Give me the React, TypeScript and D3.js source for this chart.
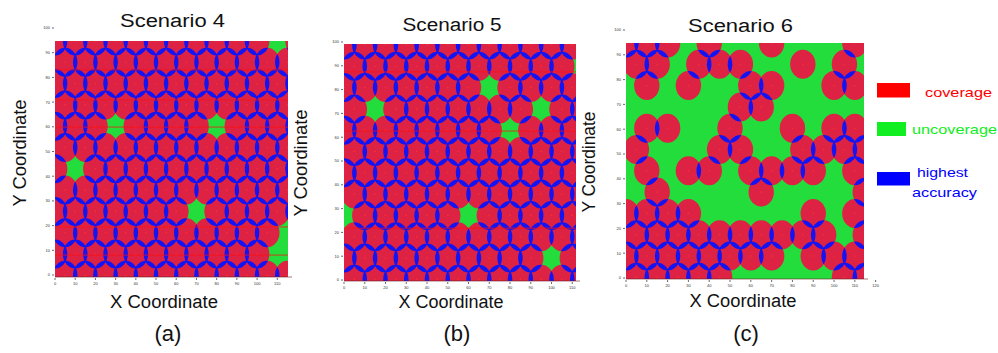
import React from 'react';
import * as d3 from 'd3';

// Sensor lattice: rows counted from the top edge, even rows sit on whole columns,
// odd rows on half columns (one column = sensor spacing).
const latticeRows = d3.range(0, 12);
const evenCols = d3.range(0, 13);
const oddCols = d3.range(0.5, 12, 1);

// Scenario 4 and 5: full lattice minus these [row, col] holes
const scenario4Holes: [number, number][] = [
  [0, 11], [4, 3], [4, 8], [6, 1], [8, 7], [9, 11.5], [10, 11], [10, 12],
];
const scenario5Holes: [number, number][] = [
  [1, 11.5], [2, 7], [3, 1.5], [3, 9.5], [4, 8], [8, 0], [8, 6], [10, 10],
];

// Scenario 6: surviving sensors, one list of columns per row
const scenario6Rows: number[][] = [
  [0, 1, 2, 4, 7, 11],
  [0.5, 1.5, 3.5, 4.5, 5.5, 8.5, 10.5],
  [1, 3, 6, 7, 10, 11],
  [5.5, 6.5],
  [1, 2, 5, 8, 10, 11],
  [0.5, 4.5, 5.5, 8.5, 9.5, 10.5, 11.5],
  [1, 3, 4, 6, 7, 8, 9, 11],
  [1.5, 6.5, 11.5],
  [0, 1, 2, 3, 9, 11],
  [0.5, 1.5, 2.5, 3.5, 4.5, 5.5, 6.5, 7.5, 8.5, 9.5, 11.5],
  [0, 1, 2, 3, 4, 5, 6, 7, 9, 10, 11],
  [0.5, 1.5, 2.5, 3.5, 4.5, 10.5, 11.5],
];

// tick labels (unreadable in the source, plain numbers)
const xTickLabels = d3.range(0, 13).map(v => String(v * 10));
const yTickLabels = d3.range(0, 11).map(v => String(v * 10));

// legend
const legendItems = [
  { label: ['coverage'], key: 'cov' },
  { label: ['uncoverage'], key: 'unc' },
  { label: ['highest', 'accuracy'], key: 'acc' },
];

// sensing radius, in column / row units
const RX = 0.61;
const RY = 0.68;

const RED = '#dd2244';
const GREEN = '#22dd3c';
const BLUE = '#1414f2';
const FONT = '"Liberation Sans", Arial, Helvetica, sans-serif';

type Sensor = { row: number; col: number };

const fullLattice = (holes: [number, number][]): Sensor[] =>
  latticeRows.flatMap(r =>
    (r % 2 ? oddCols : evenCols)
      .filter(c => !holes.some(h => h[0] === r && h[1] === c))
      .map(c => ({ row: r, col: c }))
  );

const fromRows = (rows: number[][]): Sensor[] =>
  rows.flatMap((cols, r) => cols.map(c => ({ row: r, col: c })));

const panels = [
  {
    id: 'a', title: 'Scenario 4', tag: '(a)', sensors: fullLattice(scenario4Holes),
    plot: [55, 288, 41, 277], colMax: 11.53, rowDomain: [0, 11.08], yAxis: [275, 28], xTicks: 12,
    streaks: [1.36, 2.77, 4.04, 8.73, 10.05],
    titleX: 172.5, titleY: 26.5, titleW: 105,
    xLabX: 164, xLabY: 308, xLabW: 108,
    yLabX: 26, yLabY: 153, yLabW: 107, tagX: 168,
  },
  {
    id: 'b', title: 'Scenario 5', tag: '(b)', sensors: fullLattice(scenario5Holes),
    plot: [344, 576, 44, 281], colMax: 11.18, rowDomain: [-0.047, 11.08], yAxis: [280, 42], xTicks: 12,
    streaks: [1.26, 4.04, 8.6],
    titleX: 452, titleY: 31, titleW: 99,
    xLabX: 451, xLabY: 308, xLabW: 105,
    yLabX: 306.5, yLabY: 163, yLabW: 107, tagX: 457,
  },
  {
    id: 'c', title: 'Scenario 6', tag: '(c)', sensors: fromRows(scenario6Rows),
    plot: [626, 864, 43, 279], colMax: 11.44, rowDomain: [0, 11.08], yAxis: [278, 30], xTicks: 13,
    streaks: [],
    titleX: 740.5, titleY: 31.5, titleW: 105,
    xLabX: 743, xLabY: 307, xLabW: 107,
    yLabX: 594.5, yLabY: 162, yLabW: 101, tagX: 746,
  },
];

type PanelCfg = typeof panels[number];

const PanelView: React.FC<{ p: PanelCfg }> = ({ p }) => {
  const [x0, x1, y0, y1] = p.plot;
  const x = d3.scaleLinear().domain([0, p.colMax]).range([x0, x1]);
  const y = d3.scaleLinear().domain(p.rowDomain).range([y0, y1]);
  const yAx = d3.scaleLinear().domain([0, 10]).range(p.yAxis);
  const rx = x(RX) - x(0);
  const ry = y(RY) - y(0);

  const pts = p.sensors.map(s => ({ ...s, cx: x(s.col), cy: y(s.row) }));

  return (
    <g>
      <defs>
        <clipPath id={`plot-${p.id}`}>
          <rect x={x0} y={y0} width={x1 - x0} height={y1 - y0} />
        </clipPath>
        {pts.map((s, i) => (
          <clipPath key={i} id={`disk-${p.id}-${i}`}>
            <ellipse cx={s.cx} cy={s.cy} rx={rx} ry={ry} />
          </clipPath>
        ))}
      </defs>

      <g clipPath={`url(#plot-${p.id})`}>
        <rect x={x0} y={y0} width={x1 - x0} height={y1 - y0} fill={GREEN} />
        {pts.map((s, i) => (
          <ellipse key={i} cx={s.cx} cy={s.cy} rx={rx} ry={ry} fill={RED} />
        ))}
        {/* overlap of two sensing areas = highest accuracy */}
        {pts.map((s, i) => {
          const nb = pts.filter(
            (t, j) => j > i && Math.abs(t.row - s.row) <= 1 && Math.abs(t.col - s.col) <= 1
          );
          if (!nb.length) return null;
          return (
            <g key={i} clipPath={`url(#disk-${p.id}-${i})`}>
              {nb.map((t, k) => (
                <ellipse key={k} cx={t.cx} cy={t.cy} rx={rx} ry={ry} fill={BLUE} />
              ))}
            </g>
          );
        })}
        {pts.map((s, i) => (
          <circle key={i} cx={s.cx} cy={s.cy} r={0.8} fill="#ff3030" />
        ))}
        {p.streaks.map((r, i) => (
          <line key={i} x1={x0} x2={x1} y1={y(r)} y2={y(r)} stroke="#ff1010" strokeWidth={1} opacity={0.75} />
        ))}
      </g>

      {/* axes */}
      <line x1={x0} x2={x1 + 4} y1={y1} y2={y1} stroke="#6a2020" strokeWidth={1} opacity={0.6} />
      {d3.range(0, p.xTicks).map(i => (
        <g key={i} transform={`translate(${x(i)},${y1})`}>
          <line y1={1} y2={3} stroke="#444" strokeWidth={0.8} />
          <text y={8} textAnchor="middle" fontSize={4} fill="#333" fontFamily={FONT}>
            {xTickLabels[i]}
          </text>
        </g>
      ))}
      {yTickLabels.map((lab, i) => (
        <g key={i} transform={`translate(${x0},${yAx(i)})`}>
          <line x1={-3} x2={-1} stroke="#444" strokeWidth={0.8} />
          <text x={-5} dy="0.35em" textAnchor="end" fontSize={4} fill="#333" fontFamily={FONT}>
            {lab}
          </text>
        </g>
      ))}

      <text x={p.titleX} y={p.titleY} textAnchor="middle" fontSize={18} fontFamily={FONT} fill="#111"
        textLength={p.titleW} lengthAdjust="spacingAndGlyphs">
        {p.title}
      </text>
      <text x={p.xLabX} y={p.xLabY} textAnchor="middle" fontSize={18} fontFamily={FONT} fill="#111"
        textLength={p.xLabW} lengthAdjust="spacingAndGlyphs">
        X Coordinate
      </text>
      <text transform={`translate(${p.yLabX},${p.yLabY}) rotate(-90)`} textAnchor="middle" fontSize={18}
        fontFamily={FONT} fill="#111" textLength={p.yLabW} lengthAdjust="spacingAndGlyphs">
        Y Coordinate
      </text>
      <text x={p.tagX} y={341} textAnchor="middle" fontSize={22} fontFamily={FONT} fill="#111">
        {p.tag}
      </text>
    </g>
  );
};

const App: React.FC = () => {
  const legendColor: Record<string, string> = { cov: '#ff0000', unc: '#11ee22', acc: '#0000ff' };
  const legendRect: Record<string, number[]> = {
    cov: [877, 83, 33, 14.5], unc: [877, 122, 29, 14], acc: [877, 172, 33, 13.5],
  };
  const legendText: Record<string, number[][]> = {
    cov: [[925, 97, 67]],
    unc: [[912, 134, 85]],
    acc: [[917, 177, 51], [912, 197, 65]],
  };

  return (
    <svg width={998} height={353} style={{ position: 'absolute', left: 0, top: 0, background: '#fff' }}>
      {panels.map(p => (
        <PanelView key={p.id} p={p} />
      ))}
      {legendItems.map(item => {
        const [rx, ry, rw, rh] = legendRect[item.key];
        return (
          <g key={item.key}>
            <rect x={rx} y={ry} width={rw} height={rh} fill={legendColor[item.key]} />
            {item.label.map((t, i) => {
              const [tx, ty, tw] = legendText[item.key][i];
              return (
                <text key={i} x={tx} y={ty} fontSize={13} fontFamily={FONT} fill={legendColor[item.key]}
                  textLength={tw} lengthAdjust="spacingAndGlyphs">
                  {t}
                </text>
              );
            })}
          </g>
        );
      })}
    </svg>
  );
};

export default App;
